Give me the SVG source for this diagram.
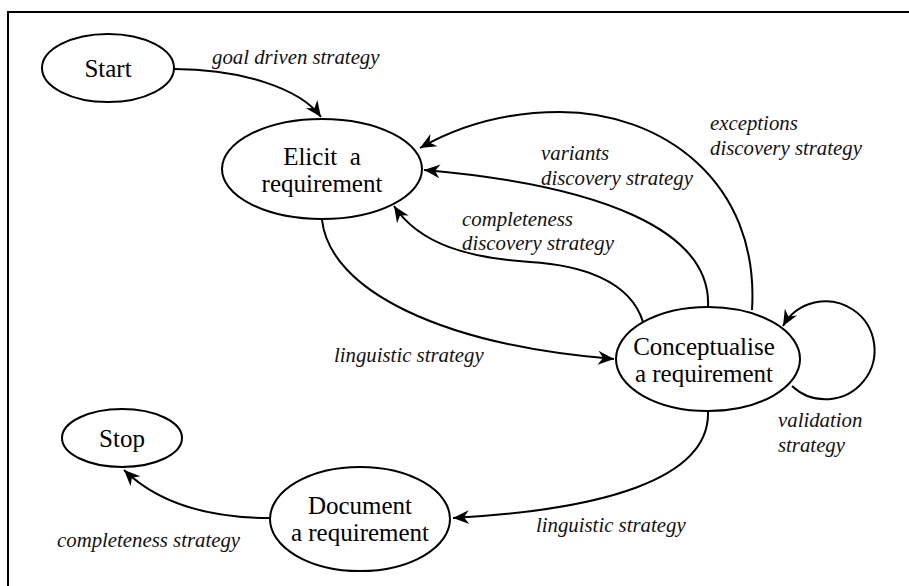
<svg xmlns="http://www.w3.org/2000/svg" width="909" height="586" viewBox="0 0 909 586">
<style>
.node ellipse{fill:#fff;stroke:#000;stroke-width:2}
.node text{font-family:"Liberation Serif","Times New Roman",serif;font-size:25px;fill:#000;text-anchor:middle}
.lbl{font-family:"Liberation Serif","Times New Roman",serif;font-size:20.8px;font-style:italic;fill:#111}
.edge{fill:none;stroke:#000;stroke-width:2;marker-end:url(#arr)}
</style>
<defs>
<marker id="arr" markerUnits="userSpaceOnUse" markerWidth="20" markerHeight="16" viewBox="-16 -8 18 16" refX="0" refY="0" orient="auto">
<path d="M0,0 L-16,-7 L-11,0 L-16,7 z" fill="#000"/>
</marker>
</defs>
<rect width="909" height="586" fill="#fff"/>
<path d="M8,586 L8,12 L909,12" fill="none" stroke="#000" stroke-width="2"/>
<g id="connectors">
<path class="edge" d="M174,69 C240,69 300,88 321,117"/>
<path class="edge" d="M752,310 C760,180 660,112 560,112 C500,112 455,128 420,148"/>
<path class="edge" d="M708,307 C712,230 600,185 424,170"/>
<path class="edge" d="M643,322 C630,280 580,265 530,262 C470,258 420,245 394,206"/>
<path class="edge" d="M322,220 C330,290 440,345 614,359"/>
<path class="edge" d="M792,386 A49 49 0 1 0 783,326"/>
<path class="edge" d="M708,412 C710,480 600,510 453,518"/>
<path class="edge" d="M270,518 C210,518 160,505 124,470"/>
</g>
<g id="labels">
<text class="lbl" x="212" y="64">goal driven strategy</text>
<text class="lbl" x="710" y="130">exceptions</text>
<text class="lbl" x="710" y="155">discovery strategy</text>
<text class="lbl" x="541" y="160">variants</text>
<text class="lbl" x="541" y="185">discovery strategy</text>
<text class="lbl" x="462" y="226">completeness</text>
<text class="lbl" x="462" y="250">discovery strategy</text>
<text class="lbl" x="334" y="362">linguistic strategy</text>
<text class="lbl" x="778" y="427">validation</text>
<text class="lbl" x="778" y="452">strategy</text>
<text class="lbl" x="536" y="532">linguistic strategy</text>
<text class="lbl" x="57" y="547">completeness strategy</text>
</g>
<g id="start" class="node">
<ellipse cx="108" cy="68" rx="66" ry="34"/>
<text x="108" y="77">Start</text>
</g>
<g id="elicit" class="node">
<ellipse cx="322" cy="169" rx="100" ry="50"/>
<text x="322" y="165">Elicit&#160; a</text>
<text x="322" y="192">requirement</text>
</g>
<g id="conceptualise" class="node">
<ellipse cx="708" cy="359" rx="92" ry="52"/>
<text x="704" y="355">Conceptualise</text>
<text x="704" y="382">a requirement</text>
</g>
<g id="stop" class="node">
<ellipse cx="122" cy="438" rx="60" ry="29"/>
<text x="122" y="447">Stop</text>
</g>
<g id="document" class="node">
<ellipse cx="360" cy="519" rx="90" ry="52"/>
<text x="360" y="514">Document</text>
<text x="360" y="541">a requirement</text>
</g>
</svg>
